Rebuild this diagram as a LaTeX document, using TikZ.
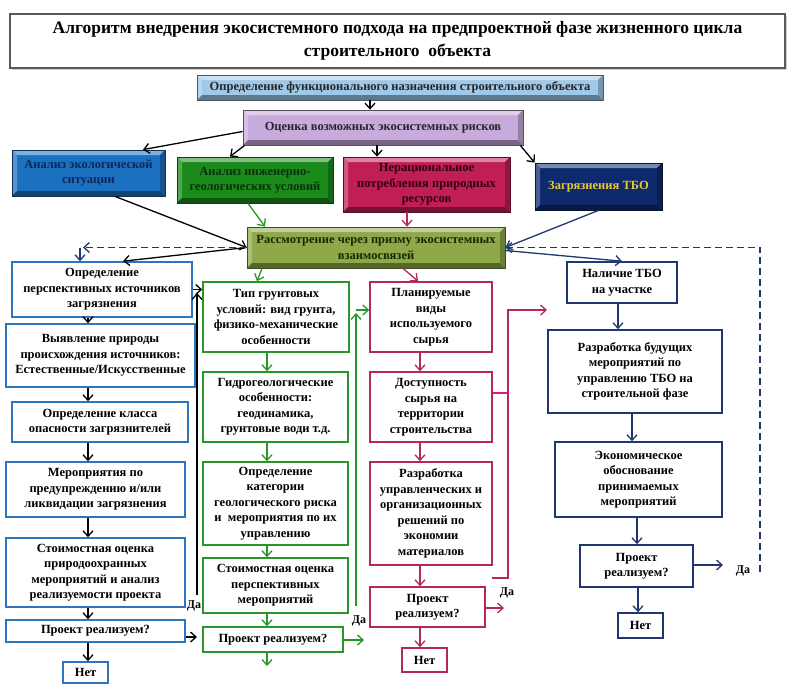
\documentclass[tikz,border=0pt]{standalone}
\usepackage{fontspec}
\setmainfont{Liberation Serif}
\usetikzlibrary{arrows.meta,calc,shadows}
\definecolor{cblue}{RGB}{46,117,190}
\definecolor{cgreen}{RGB}{40,150,40}
\definecolor{ccrim}{RGB}{180,40,90}
\definecolor{cmag}{RGB}{230,20,140}
\definecolor{cnavy}{RGB}{31,56,112}
\definecolor{fF}{RGB}{160,200,232}
\definecolor{fO}{RGB}{200,170,220}
\definecolor{fE}{RGB}{28,112,192}
\definecolor{fG}{RGB}{26,138,26}
\definecolor{fR}{RGB}{192,30,86}
\definecolor{fT}{RGB}{14,42,110}
\definecolor{fP}{RGB}{142,168,74}
\definecolor{tE}{RGB}{10,40,90}
\definecolor{tG}{RGB}{10,50,10}
\definecolor{tR}{RGB}{50,0,15}
\definecolor{tT}{RGB}{235,200,50}
\definecolor{tP}{RGB}{25,40,0}
\tikzset{
  bevel/.style={fill=#1, draw=#1!45!black, line width=0.8, align=center,
    path picture={
      \fill[#1!55!white] (path picture bounding box.north west) -- (path picture bounding box.north east)
        -- ([xshift=-5pt,yshift=-5pt]path picture bounding box.north east) -- ([xshift=5pt,yshift=-5pt]path picture bounding box.north west) -- cycle;
      \fill[#1!75!white] (path picture bounding box.north west) -- (path picture bounding box.south west)
        -- ([xshift=5pt,yshift=5pt]path picture bounding box.south west) -- ([xshift=5pt,yshift=-5pt]path picture bounding box.north west) -- cycle;
      \fill[#1!60!black] (path picture bounding box.south west) -- (path picture bounding box.south east)
        -- ([xshift=-5pt,yshift=5pt]path picture bounding box.south east) -- ([xshift=5pt,yshift=5pt]path picture bounding box.south west) -- cycle;
      \fill[#1!75!black] (path picture bounding box.north east) -- (path picture bounding box.south east)
        -- ([xshift=-5pt,yshift=5pt]path picture bounding box.south east) -- ([xshift=-5pt,yshift=-5pt]path picture bounding box.north east) -- cycle;
    }},
  wbox/.style={draw=#1, line width=1.6, fill=white, align=center, inner sep=1pt},
  arr/.style={draw=#1, line width=1.3, -{Straight Barb[length=5.5pt,width=10pt,line width=1.3pt]}},
  dash2/.style={dashed, dash pattern=on 7pt off 4pt, line width=1.5},
  lbl/.style={font=\bfseries\fontsize{12}{14}\selectfont, inner sep=1pt}
}
\begin{document}
\begin{tikzpicture}[x=1pt,y=-1pt,font=\bfseries\fontsize{12.5}{15.5}\selectfont]
\useasboundingbox[fill=white] (0,0) rectangle (796,691);
% title
\node[draw=black!65, line width=1.5, fill=white, align=center, minimum width=775, minimum height=54,
  drop shadow={shadow xshift=2pt,shadow yshift=-2pt,opacity=0.35},
  font=\bfseries\fontsize{17.5}{23}\selectfont] (title) at (397.5,41)
  {Алгоритм внедрения экосистемного подхода на предпроектной фазе жизненного цикла\\строительного\ \ объекта};
% top boxes
\node[bevel=fF, minimum width=406, minimum height=25, font=\bfseries\fontsize{12.5}{14}\selectfont, text=black!85] (F) at (400,87.5)
  {Определение функционального назначения строительного объекта};
\node[bevel=fO, minimum width=280, minimum height=35, font=\bfseries\fontsize{12.5}{14}\selectfont, text=black!85] (O) at (383,127.5)
  {Оценка возможных экосистемных рисков};
\node[bevel=fE, minimum width=153, minimum height=46, text=tE] (E) at (88.5,173)
  {Анализ экологической\\ситуации};
\node[bevel=fG, minimum width=156, minimum height=46, text=tG] (G) at (255,180)
  {Анализ инженерно-\\геологических условий};
\node[bevel=fR, minimum width=167, minimum height=55, text=tR] (R) at (426.5,184.5)
  {Нерациональное\\потребления природных\\ресурсов};
\node[bevel=fT, minimum width=127, minimum height=47, text=tT] (T) at (598.5,186.5)
  {Загрязнения ТБО};
\node[bevel=fP, minimum width=258, minimum height=41, text=tP] (P) at (376,247.5)
  {Рассмотрение через призму экосистемных\\взаимосвязей};
% column 1
\node[wbox=cblue, minimum width=180, minimum height=55] (L1) at (102,289.5)
  {Определение\\перспективных источников\\загрязнения};
\node[wbox=cblue, minimum width=189, minimum height=63] (L2) at (100.5,355.5)
  {Выявление природы\\происхождения источников:\\Естественные/Искусственные};
\node[wbox=cblue, minimum width=176, minimum height=40] (L3) at (100,422)
  {Определение класса\\опасности загрязнителей};
\node[wbox=cblue, minimum width=179, minimum height=55] (L4) at (95.5,489.5)
  {Мероприятия по\\предупреждению и/или\\ликвидации загрязнения};
\node[wbox=cblue, minimum width=179, minimum height=69] (L5) at (95.5,572.5)
  {Стоимостная оценка\\природоохранных\\мероприятий и анализ\\реализуемости проекта};
\node[wbox=cblue, minimum width=179, minimum height=22] (L6) at (95.5,631)
  {Проект реализуем?};
\node[wbox=cblue, minimum width=45, minimum height=21] (L7) at (85.5,672.5) {Нет};
% column 2
\node[wbox=cgreen, minimum width=146, minimum height=70] (G1) at (276,317)
  {Тип грунтовых\\условий: вид грунта,\\физико-механические\\особенности};
\node[wbox=cgreen, minimum width=145, minimum height=70] (G2) at (275.5,407)
  {Гидрогеологические\\особенности:\\геодинамика,\\грунтовые води т.д.};
\node[wbox=cgreen, minimum width=145, minimum height=83] (G3) at (275.5,503.5)
  {Определение\\категории\\геологического риска\\и\ \ мероприятия по их\\управлению};
\node[wbox=cgreen, minimum width=145, minimum height=55] (G4) at (275.5,585.5)
  {Стоимостная оценка\\перспективных\\мероприятий};
\node[wbox=cgreen, minimum width=140, minimum height=25] (G5) at (273,639.5)
  {Проект реализуем?};
% column 3
\node[wbox=ccrim, minimum width=122, minimum height=70] (C1) at (431,317)
  {Планируемые\\виды\\используемого\\сырья};
\node[wbox=ccrim, minimum width=122, minimum height=70] (C2) at (431,407)
  {Доступность\\сырья на\\территории\\строительства};
\node[wbox=ccrim, minimum width=122, minimum height=103] (C3) at (431,513.5)
  {Разработка\\управленческих и\\организационных\\решений по\\экономии\\материалов};
\node[wbox=ccrim, minimum width=115, minimum height=40] (C4) at (427.5,607)
  {Проект\\реализуем?};
\node[wbox=ccrim, minimum width=45, minimum height=24] (C5) at (424.5,660) {Нет};
% column 4
\node[wbox=cnavy, minimum width=110, minimum height=41] (N1) at (622,282.5)
  {Наличие ТБО\\на участке};
\node[wbox=cnavy, minimum width=174, minimum height=83] (N2) at (635,371.5)
  {Разработка будущих\\мероприятий по\\управлению ТБО на\\строительной фазе};
\node[wbox=cnavy, minimum width=167, minimum height=75] (N3) at (638.5,479.5)
  {Экономическое\\обоснование\\принимаемых\\мероприятий};
\node[wbox=cnavy, minimum width=113, minimum height=42] (N4) at (636.5,566)
  {Проект\\реализуем?};
\node[wbox=cnavy, minimum width=45, minimum height=25] (N5) at (640.5,625.5) {Нет};
% coordinates
\coordinate (k1) at (88,0);
\coordinate (k2) at (267,0);
\coordinate (k3) at (420,0);
\coordinate (k4a) at (618,0);
\coordinate (k4b) at (632,0);
\coordinate (k4c) at (637,0);
\coordinate (k4d) at (638,0);
\coordinate (dl) at (83,247.5);
\coordinate (dlx) at (80,247.5);
\coordinate (dr) at (760,572);
\coordinate (drt) at (760,247.5);
\coordinate (g5w) at (197,637);
\coordinate (bv1) at (197,595);
\coordinate (bv2) at (197,293);
\coordinate (g5r) at (364,640);
\coordinate (gv1) at (356,606);
\coordinate (gv2) at (356,313);
\coordinate (gh) at (356,310);
\coordinate (g5d) at (267,666);
\coordinate (c4r) at (504,608);
\coordinate (cs) at (492,578);
\coordinate (cv1) at (508,578);
\coordinate (cv2) at (508,310);
\coordinate (ce) at (547,310);
\coordinate (c2y) at (0,393);
\coordinate (n4r) at (723,565);
% top connectors
\draw[arr=black] ([xshift=-30pt]F.south) -- ([xshift=-13pt]O.north);
\draw[arr=black] ([yshift=-4pt]O.west) -- ([xshift=54.5pt]E.north);
\draw[arr=black] ([xshift=2pt]O.south west) -- ([xshift=-25pt]G.north);
\draw[arr=black] ([xshift=-6pt]O.south) -- ([xshift=-49.5pt]R.north);
\draw[arr=black] ([xshift=-3pt]O.south east) -- (T.north west);
\draw[arr=black] ([xshift=26.5pt]E.south) -- (P.west);
\draw[arr=cgreen] ([xshift=-7pt]G.south) -- ([xshift=-111pt]P.north);
\draw[arr=ccrim] ([xshift=-19.5pt]R.south) -- ([xshift=31pt]P.north);
\draw[arr=cnavy] (T.south) -- (P.east);
\draw[arr=black] (P.west) -- ([xshift=21pt]L1.north);
\draw[arr=cnavy, dash2] (P.west) -- (dl);
\draw[arr=cnavy] (dlx) -- (dlx |- L1.north);
\draw[arr=cnavy, dash2] (dr) -- (drt) -- (P.east);
\draw[arr=cgreen] ([xshift=-114pt]P.south) -- ([xshift=-19pt]G1.north);
\draw[arr=ccrim] ([xshift=27pt]P.south) -- ([xshift=-13pt]C1.north);
\draw[arr=cnavy] ([yshift=-3pt]P.east) -- (N1.north);
% column 1
\draw[arr=black] (L1.south -| k1) -- (L2.north -| k1);
\draw[arr=black] (L2.south -| k1) -- (L3.north -| k1);
\draw[arr=black] (L3.south -| k1) -- (L4.north -| k1);
\draw[arr=black] (L4.south -| k1) -- (L5.north -| k1);
\draw[arr=black] (L5.south -| k1) -- (L6.north -| k1);
\draw[arr=black] (L6.south -| k1) -- (L7.north -| k1);
\draw[arr=black] (L6.east |- g5w) -- (g5w);
\draw[arr=black] (L1.east) -- (G1.west |- L1.east);
\draw[arr=black] (bv1) -- (bv2);
\node[lbl] (da1) at (194,606) {Да};
% column 2
\draw[arr=cgreen] (G1.south -| k2) -- (G2.north -| k2);
\draw[arr=cgreen] (G2.south -| k2) -- (G3.north -| k2);
\draw[arr=cgreen] (G3.south -| k2) -- (G4.north -| k2);
\draw[arr=cgreen] (G4.south -| k2) -- (G5.north -| k2);
\draw[arr=cgreen] (G5.south -| k2) -- (g5d);
\draw[arr=cgreen] (G5.east |- g5r) -- (g5r);
\draw[arr=cgreen] (gv1) -- (gv2);
\draw[arr=cgreen] (gh) -- (C1.west |- gh);
\node[lbl] (da2) at (359,621) {Да};
% column 3
\draw[arr=ccrim] (C1.south -| k3) -- (C2.north -| k3);
\draw[arr=ccrim] (C2.south -| k3) -- (C3.north -| k3);
\draw[arr=ccrim] (C3.south -| k3) -- (C4.north -| k3);
\draw[arr=ccrim] (C4.south -| k3) -- (C5.north -| k3);
\draw[arr=ccrim] (C4.east |- c4r) -- (c4r);
\node[lbl] (da3) at (507,593) {Да};
\draw[arr=ccrim] (cs) -- (cv1) -- (cv2) -- (ce);
\draw[cmag, line width=1.3] (C2.east |- c2y) -- (cv2 |- c2y);
% column 4
\draw[arr=cnavy] (N1.south -| k4a) -- (N2.north -| k4a);
\draw[arr=cnavy] (N2.south -| k4b) -- (N3.north -| k4b);
\draw[arr=cnavy] (N3.south -| k4c) -- (N4.north -| k4c);
\draw[arr=cnavy] (N4.south -| k4d) -- (N5.north -| k4d);
\draw[arr=cnavy] (N4.east |- n4r) -- (n4r);
\node[lbl] (da4) at (743,571) {Да};
\end{tikzpicture}
\end{document}
